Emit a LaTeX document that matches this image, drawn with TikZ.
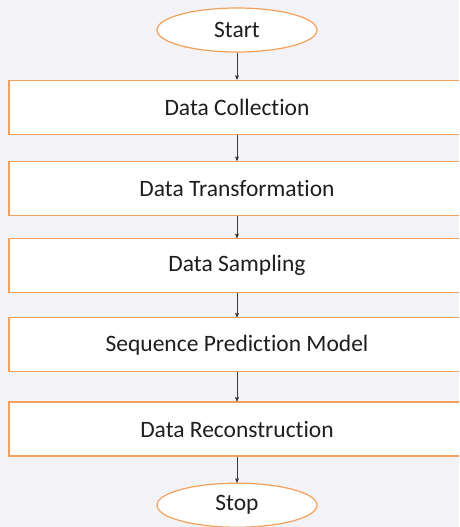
\documentclass[tikz,border=0pt]{standalone}
\usepackage{fontspec}
\setmainfont{Carlito}[Ligatures=CommonOff]
\usetikzlibrary{arrows,positioning,shapes.geometric}
\definecolor{flowbg}{RGB}{243,242,247}
\definecolor{floworange}{RGB}{245,160,90}
\definecolor{flowtext}{RGB}{30,30,30}
\definecolor{flowarrow}{RGB}{60,60,60}

\begin{document}
\begin{tikzpicture}[x=1pt,y=1pt,>=stealth',
    every node/.style={font=\fontsize{23.5}{28}\selectfont, text=flowtext},
    terminal/.style={ellipse, draw=floworange, fill=white, line width=1.2pt,
                     minimum width=160pt, minimum height=44pt, inner sep=0pt},
    process/.style={rectangle, draw=floworange, fill=white, line width=1.2pt,
                    minimum width=456pt, minimum height=54pt, inner sep=0pt}]
  \fill[flowbg] (0,0) rectangle (459,-527);
  \useasboundingbox (0,0) rectangle (459,-527);
  \clip (0,0) rectangle (459,-527);

  \node[terminal] (start)                     at (237,-30) {Start};
  \node[process]  (collect) [below=27pt of start]   {Data Collection};
  \node[process]  (transf)  [below=26pt of collect] {Data Transformation};
  \node[process]  (sampl)   [below=22pt of transf]  {Data Sampling};
  \node[process]  (model)   [below=24pt of sampl]   {Sequence Prediction Model};
  \node[process]  (recon)   [below=29pt of model]   {Data Reconstruction};
  \node[terminal] (stop)    [below=26pt of recon]   {Stop};

  \path[->, draw=flowarrow, line width=0.6pt]
        (start)   edge (collect)
        (collect) edge (transf)
        (transf)  edge (sampl)
        (sampl)   edge (model)
        (model)   edge (recon)
        (recon)   edge (stop);
\end{tikzpicture}
\end{document}
